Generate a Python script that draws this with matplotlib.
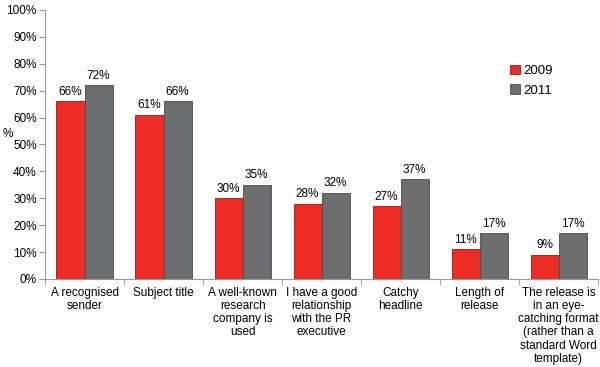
import matplotlib.pyplot as plt
import numpy as np
from matplotlib.ticker import FixedLocator

plt.rcParams['font.family'] = ['Liberation Sans', 'DejaVu Sans']

categories = [
    "A recognised\nsender",
    "Subject title",
    "A well-known\nresearch\ncompany is\nused",
    "I have a good\nrelationship\nwith the PR\nexecutive",
    "Catchy\nheadline",
    "Length of\nrelease",
    "The release is\nin an eye-\ncatching format\n(rather than a\nstandard Word\ntemplate)",
]
values_2009 = [66, 61, 30, 28, 27, 11, 9]
values_2011 = [72, 66, 35, 32, 37, 17, 17]

red = '#EE2B25'
grey = '#6D6E70'
fs = 8.5

fig = plt.figure(figsize=(6, 3.67), dpi=100)
ax = fig.add_axes([0.075, 0.24, 0.922, 0.733])

x = np.arange(len(categories))
w = 0.355
b1 = ax.bar(x - w / 2, values_2009, w, color=red, edgecolor='#8a1a16', linewidth=0.6, label='2009')
b2 = ax.bar(x + w / 2, values_2011, w, color=grey, edgecolor='#4a4a4a', linewidth=0.6, label='2011')

for bars, vals in ((b1, values_2009), (b2, values_2011)):
    for r, v in zip(bars, vals):
        ax.text(r.get_x() + r.get_width() / 2, v + 1.3, f"{v}%", ha='center', va='bottom', fontsize=fs)

ax.set_xlim(-0.5, len(categories) - 0.5)
ax.set_ylim(0, 100)
ax.set_yticks(range(0, 101, 10))
ax.set_yticklabels([f"{t}%" for t in range(0, 101, 10)], fontsize=fs)
ax.set_xticks(x)
ax.set_xticklabels(categories, fontsize=fs, linespacing=1.12, va='top')
ax.tick_params(axis='x', length=0, pad=6)
ax.xaxis.set_minor_locator(FixedLocator(np.arange(-0.5, len(categories), 1)))
ax.tick_params(axis='x', which='minor', length=4, color='#999999')
ax.tick_params(axis='y', length=4, color='#999999', pad=2)

for s in ('top', 'right'):
    ax.spines[s].set_visible(False)
for s in ('left', 'bottom'):
    ax.spines[s].set_color('#999999')

ax.set_ylabel('%', rotation=0, fontsize=fs, va='center', ha='center')
ax.yaxis.set_label_coords(-0.068, 0.54)

ax.legend(loc='upper left', bbox_to_anchor=(0.82, 0.84), frameon=False, fontsize=9.5,
          handlelength=0.7, handleheight=0.7, handletextpad=0.3, labelspacing=0.55)

fig.savefig('out.png', dpi=100)
